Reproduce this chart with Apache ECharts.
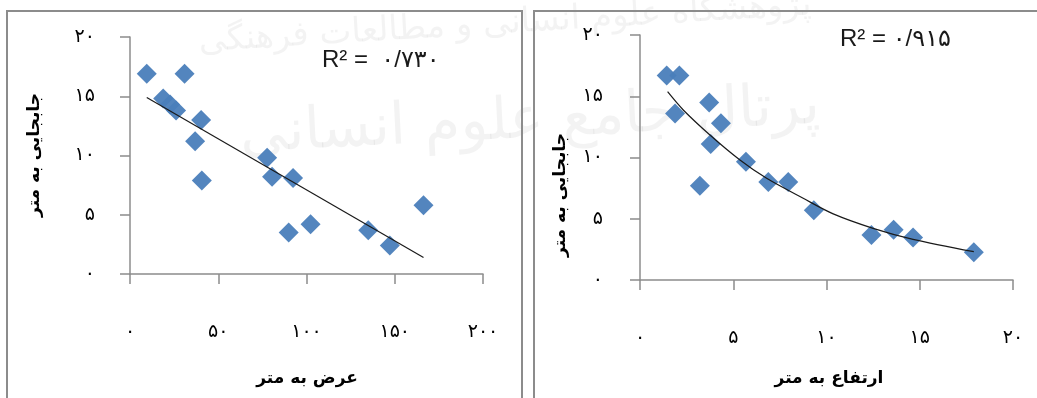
<!DOCTYPE html>
<html>
<head>
<meta charset="utf-8">
<script src="https://cdn.jsdelivr.net/npm/echarts@6/dist/echarts.min.js"></script>
<style>
  html, body { margin: 0; padding: 0; background: #fff; }
  #chart { width: 1037px; height: 398px; }
</style>
</head>
<body>
<div id="chart"></div>
<script>
// Left panel: width (m) vs displacement (m)
const leftX = [9.5, 30.9, 18.8, 22.7, 26.1, 40.3, 36.9, 40.7, 77.7, 80.5, 92.4, 89.9, 102.3, 135.0, 147.2, 166.3];
const leftY = [16.9, 16.9, 14.8, 14.3, 13.8, 13.0, 11.2, 7.9, 9.8, 8.2, 8.1, 3.5, 4.2, 3.7, 2.4, 5.8];
const leftTrendX = [9.5, 166.3];
const leftTrendY = [14.9, 1.4];
const leftR2 = 'R\u00B2 =  ۰/۷۳۰';

// Right panel: height (m) vs displacement (m)
const rightX = [1.43, 2.11, 1.88, 3.71, 4.34, 3.79, 3.21, 5.68, 6.88, 7.95, 9.32, 12.41, 13.6, 14.64, 17.9];
const rightY = [16.7, 16.7, 13.6, 14.5, 12.8, 11.1, 7.7, 9.66, 8.0, 8.0, 5.7, 3.67, 4.1, 3.46, 2.26];
const rightTrendX = [1.48, 2.32, 3.75, 5.36, 6.79, 8.75, 10.36, 12.5, 14.64, 17.9];
const rightTrendY = [15.37, 13.88, 11.84, 9.8, 8.3, 6.67, 5.4, 4.22, 3.32, 2.31];
const rightR2 = 'R\u00B2 = ۰/۹۱۵';

// tick labels (Persian digits)
const yTicks = ['۰', '۵', '۱۰', '۱۵', '۲۰'];
const leftXTicks = ['۰', '۵۰', '۱۰۰', '۱۵۰', '۲۰۰'];
const rightXTicks = ['۰', '۵', '۱۰', '۱۵', '۲۰'];

const yTitle = 'جابجایی به متر';
const leftXTitle = 'عرض به متر';
const rightXTitle = 'ارتفاع به متر';

const axisColor = '#8c8c8c';
const markerColor = '#4a7ebb';
const faFont = 'DejaVu Sans';

function pairs(xs, ys) {
  return xs.map((x, i) => [x, ys[i]]);
}

function xAxisOf(gridIndex, max, interval, ticks) {
  return {
    gridIndex: gridIndex,
    type: 'value',
    min: 0,
    max: max,
    interval: interval,
    axisLine: { show: true, lineStyle: { color: axisColor, width: 1.5 } },
    axisTick: { show: true, length: 10, lineStyle: { color: axisColor, width: 1.5 } },
    splitLine: { show: false },
    axisLabel: {
      margin: 49,
      color: '#000',
      fontFamily: faFont,
      fontSize: 19,
      formatter: v => ticks[Math.round(v / interval)]
    }
  };
}

function yAxisOf(gridIndex, margin) {
  return {
    gridIndex: gridIndex,
    type: 'value',
    min: 0,
    max: 20,
    interval: 5,
    axisLine: { show: true, lineStyle: { color: axisColor, width: 1.5 } },
    axisTick: { show: true, length: 10, lineStyle: { color: axisColor, width: 1.5 } },
    splitLine: { show: false },
    axisLabel: {
      margin: margin,
      color: '#000',
      fontFamily: faFont,
      fontSize: 19,
      padding: [0, 0, 20, 0],
      formatter: v => yTicks[Math.round(v / 5)]
    }
  };
}

function scatterOf(idx, data) {
  return {
    type: 'scatter',
    xAxisIndex: idx,
    yAxisIndex: idx,
    symbol: 'diamond',
    symbolSize: 20,
    itemStyle: { color: markerColor, opacity: 0.95 },
    data: data,
    z: 3
  };
}

function trendOf(idx, data, smooth) {
  return {
    type: 'line',
    xAxisIndex: idx,
    yAxisIndex: idx,
    showSymbol: false,
    smooth: smooth,
    lineStyle: { color: '#1a1a1a', width: 1.2 },
    data: data,
    z: 4
  };
}

const chart = echarts.init(document.getElementById('chart'));

chart.setOption({
  backgroundColor: '#fff',
  animation: false,
  grid: [
    { left: 130, top: 37, width: 353, height: 237, outerBoundsMode: 'none' },
    { left: 640, top: 35, width: 373, height: 245, outerBoundsMode: 'none' }
  ],
  xAxis: [
    xAxisOf(0, 200, 50, leftXTicks),
    xAxisOf(1, 20, 5, rightXTicks)
  ],
  yAxis: [
    yAxisOf(0, 35),
    yAxisOf(1, 37)
  ],
  series: [
    scatterOf(0, pairs(leftX, leftY)),
    trendOf(0, pairs(leftTrendX, leftTrendY), false),
    scatterOf(1, pairs(rightX, rightY)),
    trendOf(1, pairs(rightTrendX, rightTrendY), 0.3)
  ],
  graphic: [
    // faint watermark behind everything
    {
      type: 'text', x: 505, y: 24, rotation: 0.06, z: -10, silent: true,
      style: { text: 'پژوهشگاه علوم انسانی و مطالعات فرهنگی', fontFamily: faFont, fontSize: 34,
               fill: 'rgba(90,90,90,0.07)', align: 'center', verticalAlign: 'middle' }
    },
    {
      type: 'text', x: 530, y: 122, rotation: 0.05, z: -10, silent: true,
      style: { text: 'پرتال جامع علوم انسانی', fontFamily: faFont, fontSize: 58,
               fill: 'rgba(90,90,90,0.07)', align: 'center', verticalAlign: 'middle' }
    },
    // panel frames
    {
      type: 'rect', z: 1, silent: true,
      shape: { x: 7, y: 11, width: 515, height: 400 },
      style: { fill: 'none', stroke: axisColor, lineWidth: 2 }
    },
    {
      type: 'rect', z: 1, silent: true,
      shape: { x: 534, y: 11, width: 510, height: 400 },
      style: { fill: 'none', stroke: axisColor, lineWidth: 2 }
    },
    // R² annotations
    {
      type: 'text', x: 322, y: 60, z: 5,
      style: { text: leftR2, fontFamily: 'Liberation Sans, DejaVu Sans', fontSize: 24,
               fill: '#1a1a1a', align: 'left', verticalAlign: 'middle' }
    },
    {
      type: 'text', x: 840, y: 39, z: 5,
      style: { text: rightR2, fontFamily: 'Liberation Sans, DejaVu Sans', fontSize: 24,
               fill: '#1a1a1a', align: 'left', verticalAlign: 'middle' }
    },
    // axis titles
    {
      type: 'text', x: 35, y: 155, rotation: Math.PI / 2, z: 5,
      style: { text: yTitle, fontFamily: faFont, fontSize: 17, fontWeight: 'bold',
               fill: '#000', align: 'center', verticalAlign: 'middle' }
    },
    {
      type: 'text', x: 561, y: 195, rotation: Math.PI / 2, z: 5,
      style: { text: yTitle, fontFamily: faFont, fontSize: 17, fontWeight: 'bold',
               fill: '#000', align: 'center', verticalAlign: 'middle' }
    },
    {
      type: 'text', x: 307, y: 379, z: 5,
      style: { text: leftXTitle, fontFamily: faFont, fontSize: 17, fontWeight: 'bold',
               fill: '#000', align: 'center', verticalAlign: 'middle' }
    },
    {
      type: 'text', x: 829, y: 379, z: 5,
      style: { text: rightXTitle, fontFamily: faFont, fontSize: 17, fontWeight: 'bold',
               fill: '#000', align: 'center', verticalAlign: 'middle' }
    }
  ]
});
</script>
</body>
</html>
